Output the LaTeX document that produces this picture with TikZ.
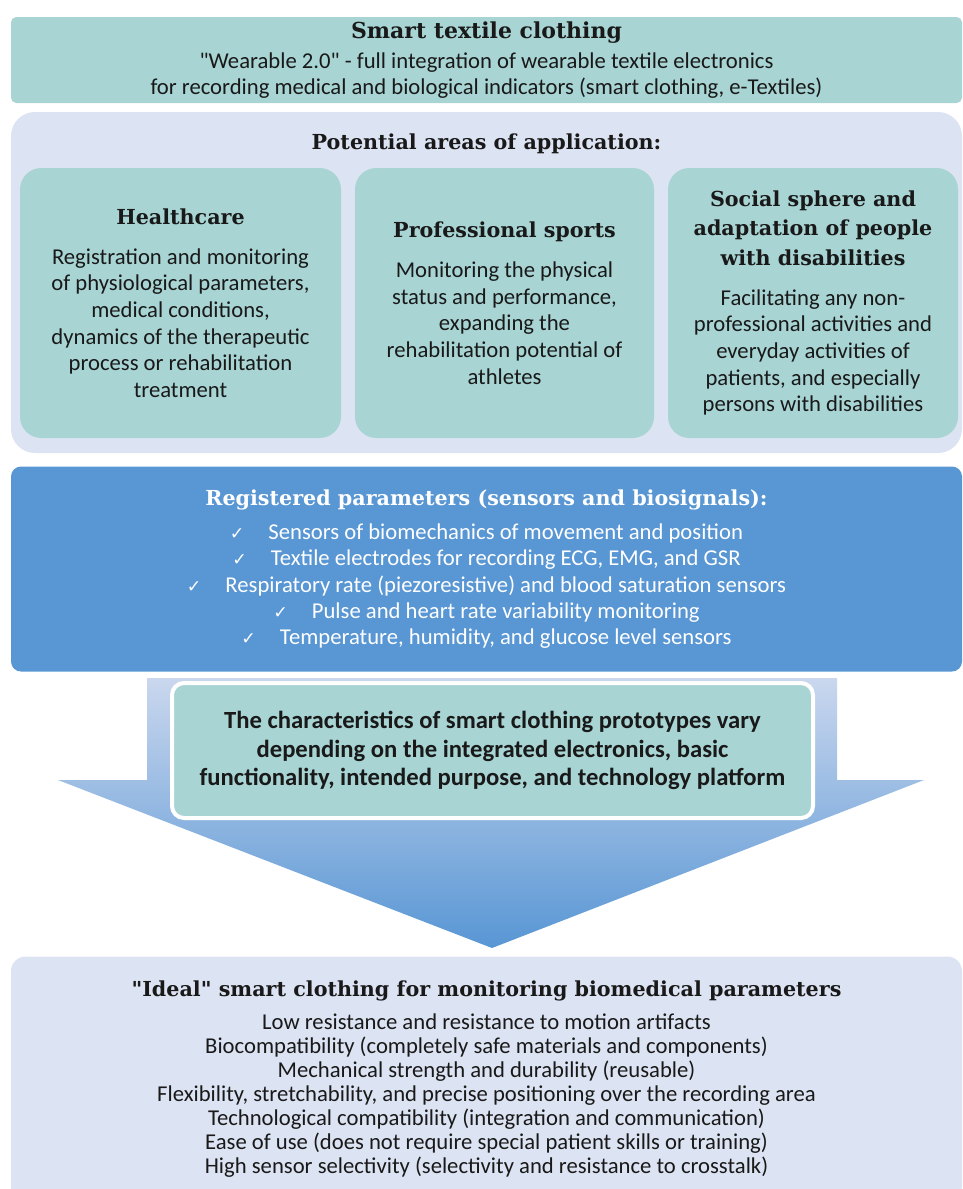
\documentclass[tikz,border=0pt]{standalone}
\usepackage{fontspec}
\setmainfont{Carlito}[Ligatures=TeXOff]
\newfontfamily\headfont{DejaVu Serif}
\newfontfamily\symfont{DejaVu Sans}
\usetikzlibrary{positioning}

\definecolor{tealbox}{RGB}{168,212,212}
\definecolor{lavender}{RGB}{220,227,242}
\definecolor{bluebox}{RGB}{88,150,212}
\definecolor{arrowtop}{RGB}{202,215,238}
\definecolor{arrowbot}{RGB}{88,150,212}
\definecolor{ink}{RGB}{25,25,25}

\newcommand{\headtxt}{\headfont\bfseries\fontsize{15.5}{20}\selectfont}
\newcommand{\tick}{{\symfont\fontsize{13}{13}\selectfont ✓}\hspace{18pt}}

\begin{document}
\begin{tikzpicture}[
		x=0.75pt, y=-0.75pt,
		block/.style={fill=tealbox, rounded corners=16pt, inner sep=0pt, align=center, text=ink, font=\fontsize{17}{20}\selectfont},
		panel/.style={fill=lavender, rounded corners=18pt, inner sep=0pt, minimum width=713.25pt},
		wide/.style={minimum width=713.25pt, inner sep=0pt, align=center},
	]
		\useasboundingbox (0,0) rectangle (963,1189);

		\node [wide, fill=tealbox, rounded corners=4pt, minimum height=64.5pt, text=ink, font=\fontsize{17}{19.25}\selectfont] (smart) at (486.5,60)
			{\headfont\bfseries\fontsize{16.5}{20}\selectfont Smart textile clothing\\[3pt]
			"Wearable 2.0" - full integration of wearable textile electronics\\
			for recording medical and biological indicators (smart clothing, e-Textiles)};

		\node [panel, minimum height=255.75pt] (areas) at (486.5,282.5) {};
		\node [below=16pt of areas.north, text=ink, inner sep=0pt] (areas title) {\headtxt Potential areas of application:};

		\node [block, minimum width=240.75pt, minimum height=202.5pt] (health) at (180.5,303)
			{\headtxt Healthcare\\[10pt]
			Registration and monitoring\\of physiological parameters,\\medical conditions,\\dynamics of the therapeutic\\process or rehabilitation\\treatment};
		\node [block, minimum width=224.25pt, minimum height=202.5pt] (sports) at (504.5,303)
			{\headtxt Professional sports\\[10pt]
			Monitoring the physical\\status and performance,\\expanding the\\rehabilitation potential of\\athletes};
		\node [block, minimum width=217.5pt, minimum height=202.5pt] (social) at (813,303)
			{\headtxt Social sphere and\\[2pt]\headtxt adaptation of people\\[2pt]\headtxt with disabilities\\[10pt]
			Facilitating any non-\\professional activities and\\everyday activities of\\patients, and especially\\persons with disabilities};

		\node [wide, fill=bluebox, rounded corners=7.5pt, minimum height=153.75pt, text=white, font=\fontsize{17}{19.75}\selectfont] (params) at (486.5,569)
			{\headtxt Registered parameters (sensors and biosignals):\\[6pt]
			\tick Sensors of biomechanics of movement and position\\
			\tick Textile electrodes for recording ECG, EMG, and GSR\\
			\tick Respiratory rate (piezoresistive) and blood saturation sensors\\
			\tick Pulse and heart rate variability monitoring\\
			\tick Temperature, humidity, and glucose level sensors};

		\shade [top color=arrowtop, bottom color=arrowbot]
			(147,678) -- (837,678) -- (837,780) -- (924,780) -- (492,948) -- (58,780) -- (147,780) -- cycle;

		\node [block, draw=white, line width=3pt, rounded corners=9pt, minimum width=480.75pt, minimum height=101.25pt, font=\bfseries\fontsize{18.5}{21.5}\selectfont] (proto) at (492.5,750.5)
			{The characteristics of smart clothing prototypes vary\\
			depending on the integrated electronics, basic\\
			functionality, intended purpose, and technology platform};

		\node [panel, rounded corners=11pt, minimum height=183.75pt, align=center, text=ink, font=\fontsize{17}{18}\selectfont] (ideal) at (486.5,1079)
			{\headtxt "Ideal" smart clothing for monitoring biomedical parameters\\[7pt]
			Low resistance and resistance to motion artifacts\\
			Biocompatibility (completely safe materials and components)\\
			Mechanical strength and durability (reusable)\\
			Flexibility, stretchability, and precise positioning over the recording area\\
			Technological compatibility (integration and communication)\\
			Ease of use (does not require special patient skills or training)\\
			High sensor selectivity (selectivity and resistance to crosstalk)};
	\end{tikzpicture}
\end{document}
